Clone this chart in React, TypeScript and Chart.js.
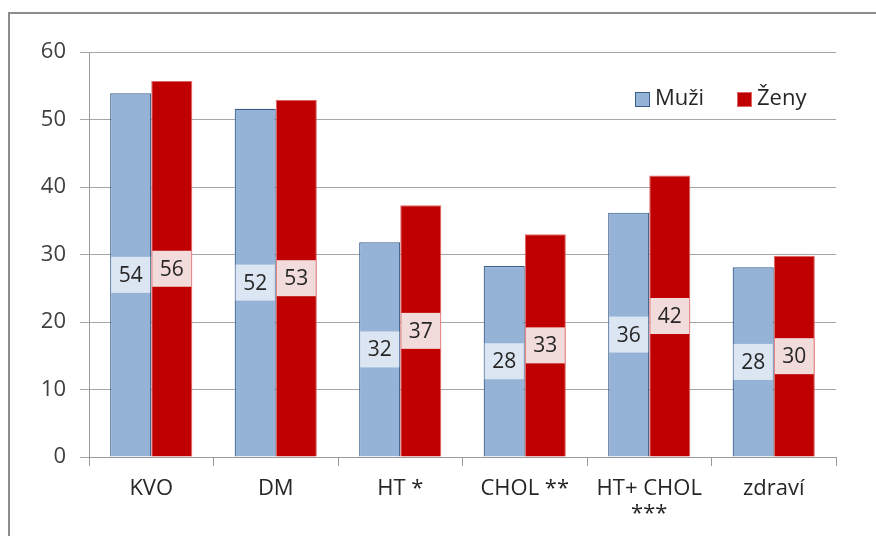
import React, { useEffect, useRef } from "react";
import { Chart, registerables } from "chart.js";

Chart.register(...registerables);

const categories: (string | string[])[] = ["KVO", "DM", "HT *", "CHOL **", ["HT+ CHOL", "***"], "zdraví"];
const muzi = [53.9, 51.6, 31.8, 28.3, 36.2, 28.1];
const zeny = [55.7, 52.9, 37.3, 33.0, 41.7, 29.8];
const seriesNames = ["Muži", "Ženy"];
const yTicks = [0, 10, 20, 30, 40, 50, 60];

const FONT = "'Open Sans', 'DejaVu Sans', sans-serif";
const labelFills = ["#dce6f2", "#f2dcdb"];

// Outer frame around the whole figure
const framePlugin = {
  id: "frame",
  beforeDraw(chart: any) {
    const ctx = chart.ctx;
    ctx.save();
    ctx.fillStyle = "#ffffff";
    ctx.fillRect(0, 0, chart.width, chart.height);
    ctx.strokeStyle = "#8c8c8c";
    ctx.lineWidth = 2;
    ctx.strokeRect(9, 13, 2000, 2000);
    ctx.restore();
  },
};

// Rounded value boxes centred in each bar
const valueLabelPlugin = {
  id: "valueLabels",
  afterDatasetsDraw(chart: any) {
    const ctx = chart.ctx;
    ctx.save();
    chart.data.datasets.forEach((ds: any, di: number) => {
      const meta = chart.getDatasetMeta(di);
      meta.data.forEach((bar: any, i: number) => {
        const v = ds.data[i];
        const w = bar.width - 2;
        const h = 36;
        const cx = bar.x;
        const cy = (bar.y + bar.base) / 2;
        ctx.fillStyle = labelFills[di];
        ctx.fillRect(cx - w / 2, cy - h / 2, w, h);
        ctx.fillStyle = "#262626";
        ctx.font = `21px ${FONT}`;
        ctx.textAlign = "center";
        ctx.textBaseline = "middle";
        ctx.fillText(String(Math.round(v)), cx, cy + 1);
      });
    });
    ctx.restore();
  },
};

// Legend drawn inside the plot at the top right
const legendPlugin = {
  id: "innerLegend",
  afterDraw(chart: any) {
    const ctx = chart.ctx;
    const positions = [635, 737];
    const y = 92;
    ctx.save();
    ctx.font = `22px ${FONT}`;
    ctx.textBaseline = "middle";
    ctx.textAlign = "left";
    chart.data.datasets.forEach((ds: any, di: number) => {
      const x = positions[di];
      ctx.fillStyle = ds.backgroundColor;
      ctx.fillRect(x, y, 15, 15);
      ctx.strokeStyle = ds.borderColor;
      ctx.lineWidth = 1;
      ctx.strokeRect(x + 0.5, y + 0.5, 14, 14);
      ctx.fillStyle = "#262626";
      ctx.fillText(ds.label, x + 20, y + 7);
    });
    ctx.restore();
  },
};

export default function App() {
  const ref = useRef<HTMLCanvasElement | null>(null);

  useEffect(() => {
    if (!ref.current) return;
    const chart = new Chart(ref.current, {
      type: "bar",
      data: {
        labels: categories,
        datasets: [
          {
            label: seriesNames[0],
            data: muzi,
            backgroundColor: "#95b3d7",
            borderColor: "#385d8a",
            borderWidth: 1.2,
          },
          {
            label: seriesNames[1],
            data: zeny,
            backgroundColor: "#c00000",
            borderColor: "#e06666",
            borderWidth: 1,
          },
        ],
      },
      options: {
        animation: false,
        responsive: false,
        devicePixelRatio: 1,
        layout: { padding: { left: 0, top: 52, right: 40, bottom: 0 } },
        datasets: {
          bar: { categoryPercentage: 0.66, barPercentage: 1 },
        },
        plugins: {
          legend: { display: false },
          tooltip: { enabled: false },
        },
        scales: {
          x: {
            afterFit(scale: any) {
              scale.height = 79;
            },
            grid: {
              offset: true,
              drawOnChartArea: false,
              drawTicks: true,
              tickLength: 9,
              color: "#9a9a9a",
            },
            border: { color: "#9a9a9a", width: 1 },
            ticks: {
              color: "#262626",
              font: { family: FONT, size: 22, lineHeight: 1.15 },
              padding: 10,
              maxRotation: 0,
            },
          },
          y: {
            min: 0,
            max: 60,
            afterFit(scale: any) {
              scale.width = 89;
            },
            afterBuildTicks(scale: any) {
              scale.ticks = yTicks.map((v) => ({ value: v }));
            },
            grid: {
              color: "#a6a6a6",
              tickLength: 9,
              lineWidth: 1,
            },
            border: { color: "#9a9a9a", width: 1 },
            ticks: {
              color: "#404040",
              font: { family: FONT, size: 22 },
              padding: 14,
            },
          },
        },
      },
      plugins: [framePlugin, valueLabelPlugin, legendPlugin],
    });
    return () => chart.destroy();
  }, []);

  return (
    <div style={{ position: "fixed", left: 0, top: 0, width: 876, height: 536 }}>
      <canvas ref={ref} width={876} height={536} style={{ width: 876, height: 536, display: "block" }} />
    </div>
  );
}
